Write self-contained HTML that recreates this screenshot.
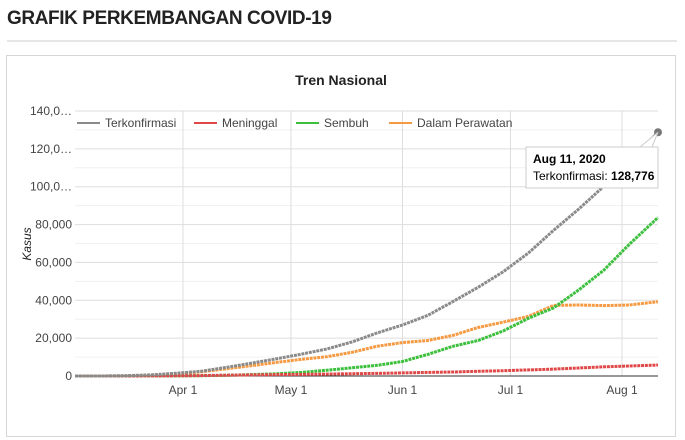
<!DOCTYPE html>
<html><head><meta charset="utf-8"><style>
body{margin:0;background:#fff;width:685px;height:440px;overflow:hidden;font-family:"Liberation Sans",sans-serif}
#h{position:absolute;left:7px;top:8px;font-size:19px;font-weight:bold;color:#222;letter-spacing:-0.4px}
#hr{position:absolute;left:7px;top:40px;width:670px;height:2px;background:#e6e6e6}
#box{position:absolute;left:6px;top:55px;width:670px;height:382px;border:1px solid #d6d6d6;box-sizing:border-box}
svg{position:absolute;left:0;top:0}
</style></head><body>
<div id="h">GRAFIK PERKEMBANGAN COVID-19</div>
<div id="hr"></div>
<div id="box"></div>
<svg id="c" width="685" height="440"></svg>
<script>
const dates=["2020-03-02","2020-03-09","2020-03-16","2020-03-23","2020-03-30","2020-04-06","2020-04-13","2020-04-20","2020-04-27","2020-05-04","2020-05-11","2020-05-18","2020-05-25","2020-06-01","2020-06-08","2020-06-15","2020-06-22","2020-06-29","2020-07-06","2020-07-13","2020-07-20","2020-07-27","2020-08-03","2020-08-11"];
const terkonfirmasi=[2,19,134,579,1414,2491,4557,6760,9096,11587,14265,18010,22750,26940,32033,39294,46845,55092,64958,76981,88214,100303,113134,128776];
const meninggal=[0,0,5,49,122,209,399,590,765,864,1007,1191,1391,1641,1883,2134,2500,2805,3241,3656,4239,4838,5302,5824];
const sembuh=[0,0,8,30,75,134,380,747,1151,1876,3063,4324,5642,7637,11414,15703,18735,23800,30500,36000,45500,56000,69500,83710];
const perawatan=[2,19,121,500,1217,2148,3778,5423,7180,8847,10195,12495,15717,17662,18736,21457,25610,28487,31500,37300,37500,37200,37500,39242];
const yTicks=[0,20000,40000,60000,80000,100000,120000,140000];
const yLabels=["0","20,000","40,000","60,000","80,000","100,0…","120,0…","140,0…"];
const xTickDates=["2020-04-01","2020-05-01","2020-06-01","2020-07-01","2020-08-01"];
const xLabels=["Apr 1","May 1","Jun 1","Jul 1","Aug 1"];
const seriesNames=["Terkonfirmasi","Meninggal","Sembuh","Dalam Perawatan"];

const NS="http://www.w3.org/2000/svg",svg=document.getElementById('c');
const X0=75,X1=658,Y0=376,Y1=111;
const t0=Date.parse(dates[0]),t1=Date.parse(dates[dates.length-1]);
const xs=d=>X0+(Date.parse(d)-t0)/(t1-t0)*(X1-X0);
const ys=v=>Y0-v/140000*(Y0-Y1);
function el(tag,a,txt){const e=document.createElementNS(NS,tag);for(const k in a)e.setAttribute(k,a[k]);if(txt!=null)e.textContent=txt;svg.appendChild(e);return e;}
let e;
e=el('text',{x:341,y:85,'text-anchor':'middle','font-size':14,'font-weight':'bold',fill:'#222'},'Tren Nasional');


for(let i=0;i<yTicks.length-1;i++){const m=ys((yTicks[i]+yTicks[i+1])/2);
e=el('line',{x1:X0,x2:X1,y1:m,y2:m,stroke:'#f0f0f0'});

}
xTickDates.forEach((d,i)=>{const x=xs(d);
e=el('line',{x1:x,x2:x,y1:Y1,y2:Y0,stroke:'#ddd'});


e=el('text',{x:x,y:394,'text-anchor':'middle','font-size':12,fill:'#444'},xLabels[i]);

});
yTicks.forEach((v,i)=>{const y=ys(v);
e=el('line',{x1:X0,x2:X1,y1:y,y2:y,stroke:i==0?'#333':'#ddd'});


e=el('text',{x:72,y:y+4,'text-anchor':'end','font-size':12,fill:'#444'},yLabels[i]);

});
e=el('text',{x:0,y:0,transform:'translate(31,244) rotate(-90)','text-anchor':'middle','font-size':12,'font-style':'italic',fill:'#222'},'Kasus');


const cols=["#8a8a8a","#e04848","#3cbf3c","#f59a42"];
const data=[terkonfirmasi,meninggal,sembuh,perawatan];
[3,2,1,0].forEach(s=>{const pts=dates.map((d,i)=>xs(d).toFixed(1)+','+ys(data[s][i]).toFixed(1)).join(' ');
e=el('polyline',{points:pts,fill:'none',stroke:cols[s],'stroke-width':3,'stroke-dasharray':'3 0.8'});

});
// legend
const lx=[77,194,296,389];
seriesNames.forEach((n,i)=>{
e=el('line',{x1:lx[i],x2:lx[i]+23,y1:123,y2:123,stroke:cols[i],'stroke-width':2});


e=el('text',{x:lx[i]+28,y:127,'font-size':12,fill:'#444'},n);

});
// tooltip
const px=xs(dates[dates.length-1]),py=ys(terkonfirmasi[terkonfirmasi.length-1]);
e=el('circle',{cx:px,cy:py,r:4,fill:'#777'});


e=el('path',{d:`M${px} ${py} L640 147 L652 147 Z`,fill:'#fff',stroke:'#ccc'});


e=el('rect',{x:526,y:147,width:132,height:41,fill:'#fff',stroke:'#ccc'});


e=el('text',{x:533,y:163,'font-size':12,'font-weight':'bold',fill:'#000'},'Aug 11, 2020');


e=el('text',{x:533,y:180,'font-size':12,fill:'#000'});


e.innerHTML='Terkonfirmasi: <tspan font-weight="bold">128,776</tspan>';
</script>
</body></html>
